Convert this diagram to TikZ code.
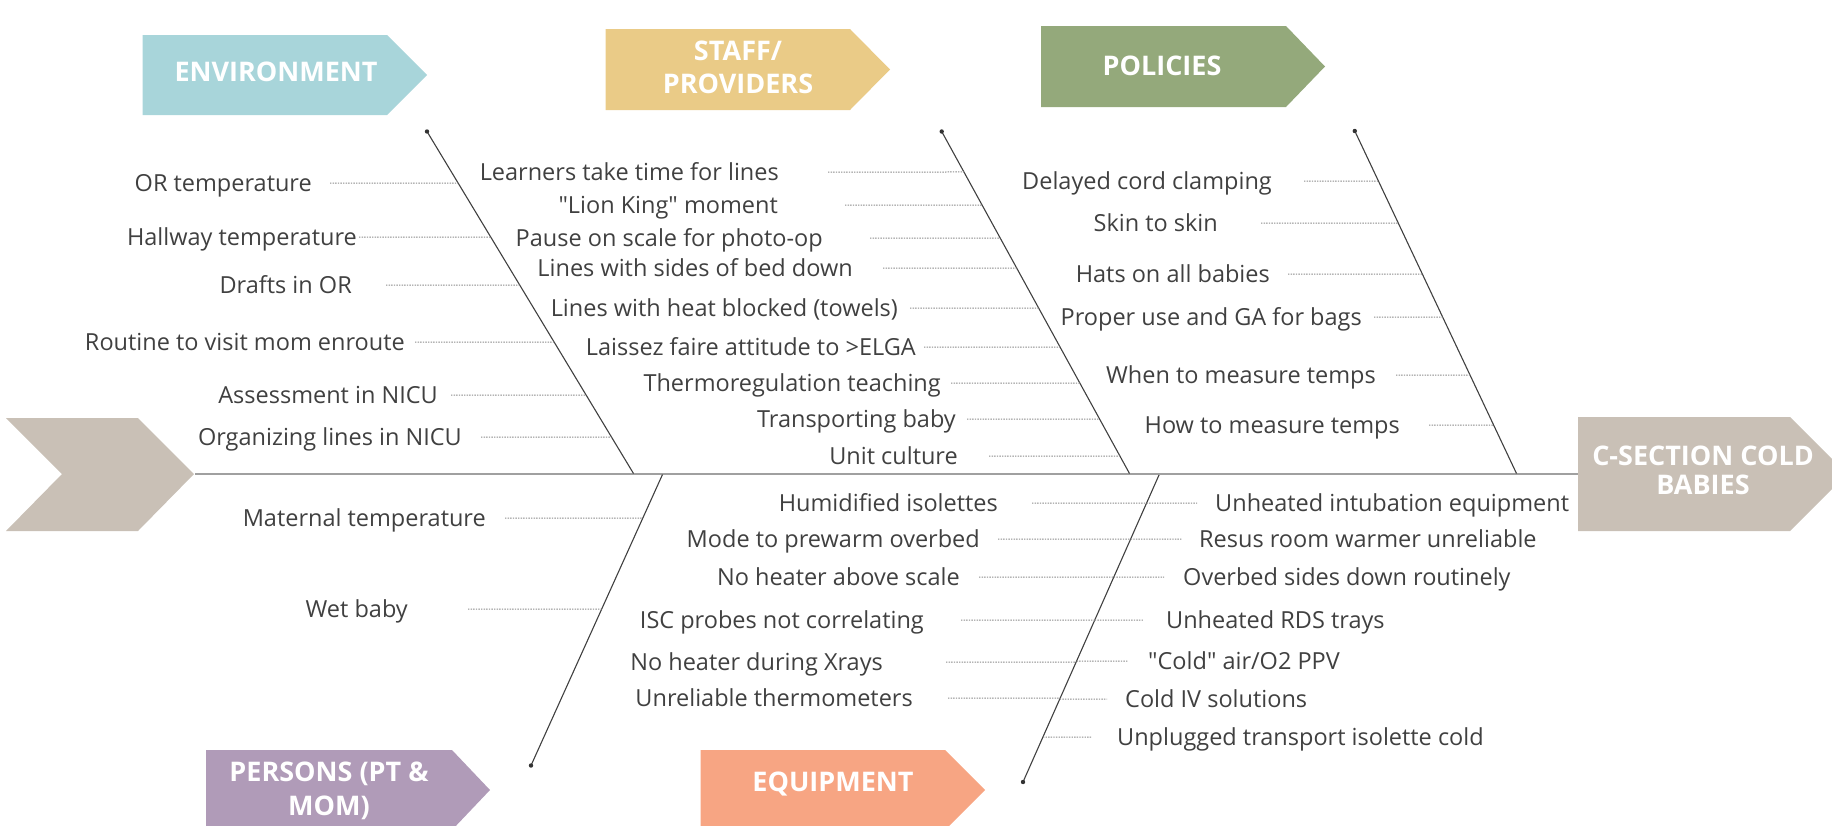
\documentclass[tikz,border=0pt]{standalone}
\usepackage{fontspec}
\setmainfont{Open Sans}[Ligatures=TeXOff]
\usetikzlibrary{calc}
\definecolor{envc}{HTML}{A8D5DA}
\definecolor{staffc}{HTML}{EACB87}
\definecolor{polc}{HTML}{94A97B}
\definecolor{taupe}{HTML}{C9C0B6}
\definecolor{perc}{HTML}{B09BB8}
\definecolor{equc}{HTML}{F7A583}
\definecolor{txt}{HTML}{404040}
\definecolor{spinec}{HTML}{A0A0A0}
\definecolor{dotc}{HTML}{8C8C8C}
\newcommand\lablft[8]{% name, right x, y, gap, bone, bone top y, bone span, text
  \node[lab,anchor=east] (#1) at (#2,#3) {#8};
  \coordinate (#1b) at ($(#5T)!{(#3-#6)/#7}!(#5B)$);
  \draw[dotl] ([xshift=#4]#1.east) -- (#1b);}
\newcommand\envlab[5]{\lablft{#1}{#2}{#3}{#4}{env}{131.5}{342}{#5}}
\newcommand\stflab[5]{\lablft{#1}{#2}{#3}{#4}{stf}{131.5}{342}{#5}}
\newcommand\pollab[5]{\lablft{#1}{#2}{#3}{#4}{pol}{131}{342.5}{#5}}
\newcommand\perlab[5]{\lablft{#1}{#2}{#3}{#4}{per}{474.5}{291}{#5}}
\newcommand\equlab[5]{\lablft{#1}{#2}{#3}{#4}{equ}{475}{307}{#5}}
\newcommand\equrlab[5]{%
  \node[lab,anchor=west] (#1) at (#2,#3) {#5};
  \coordinate (#1b) at ($(equT)!{(#3-475)/307}!(equB)$);
  \draw[dotl] (#1b) -- ([xshift=-#4]#1.west);}
\begin{document}
\begin{tikzpicture}[x=1pt,y=-1pt,
  lab/.style={text=txt,font=\fontsize{23.5}{27}\selectfont,inner sep=0pt,text height=16.5pt,text depth=0pt},
  boxlab/.style={text=white,font=\fontsize{27}{34}\selectfont\bfseries,align=center,inner sep=0pt},
  dotl/.style={draw=dotc,dash pattern=on 1.4pt off 1.2pt,line width=1pt},
  bone/.style={draw=black!75,line width=1.1pt},
  spine/.style={draw=spinec,line width=2.6pt}]
\useasboundingbox (0,0) rectangle (1832,825);
\clip (0,0) rectangle (1832,825);
% category boxes
\fill[envc] (142.5,35) -- (387,35) -- (427,75) -- (387,115) -- (142.5,115) -- cycle;
\node[boxlab] (envL) at (276,72) {ENVIRONMENT};
\fill[staffc] (605.5,29) -- (850,29) -- (890,69.5) -- (850,110) -- (605.5,110) -- cycle;
\node[boxlab,font=\fontsize{27}{33}\selectfont\bfseries] (stfL) at (738,67) {STAFF/\\PROVIDERS};
\fill[polc] (1041,26) -- (1286,26) -- (1325,66.5) -- (1286,107) -- (1041,107) -- cycle;
\node[boxlab] (polL) at (1162,66) {POLICIES};
\fill[perc] (206,750) -- (452,750) -- (490,790) -- (452,830) -- (206,830) -- cycle;
\node[boxlab] (perL) at (329,791) {PERSONS (PT \&\\MOM)};
\fill[equc] (700.5,750) -- (945,750) -- (985,790) -- (945,830) -- (700.5,830) -- cycle;
\node[boxlab] (equL) at (833,784) {EQUIPMENT};
% head and tail
\fill[taupe] (1578,417) -- (1790,417) -- (1847,474) -- (1790,531) -- (1578,531) -- cycle;
\node[boxlab,font=\fontsize{27}{29}\selectfont\bfseries] (head) at (1703,470) {C-SECTION COLD\\BABIES};
\fill[taupe] (6,418) -- (138,418) -- (194,474) -- (138,531) -- (6,531) -- (62,474) -- cycle;
\coordinate (tail) at (195,474);
\coordinate (headW) at (1578,474);
\draw[spine] (tail) -- (headW);
% bones
\coordinate (envT) at (427,131.5);  \coordinate (envB) at (633.5,473.5);
\coordinate (stfT) at (941.7,131.5); \coordinate (stfB) at (1129.5,473.5);
\coordinate (polT) at (1354.8,131); \coordinate (polB) at (1516.5,473.5);
\coordinate (perT) at (662.5,474.5); \coordinate (perB) at (531,765.5);
\coordinate (equT) at (1159,475);   \coordinate (equB) at (1023,782);
\draw[bone] (envT) -- (envB);
\draw[bone] (stfT) -- (stfB);
\draw[bone] (polT) -- (polB);
\draw[bone] (perT) -- (perB);
\draw[bone] (equT) -- (equB);
\fill[black!80] (envT) circle (2.2) (stfT) circle (2.2) (polT) circle (2.2) (perB) circle (2.2) (equB) circle (2.2);
% environment
\envlab{E1}{312}{183}{18}{OR temperature}
\envlab{E2}{357}{237}{2}{Hallway temperature}
\envlab{E3}{352}{285}{34}{Drafts in OR}
\envlab{E4}{405}{342}{10}{Routine to visit mom enroute}
\envlab{E5}{438}{395}{13}{Assessment in NICU}
\envlab{E6}{462}{437}{19}{Organizing lines in NICU}
% staff
\stflab{S1}{779}{172}{49}{Learners take time for lines}
\stflab{S2}{778}{205}{67}{"Lion King" moment}
\stflab{S3}{823}{238}{47}{Pause on scale for photo-op}
\stflab{S4}{853}{268}{30}{Lines with sides of bed down}
\stflab{S5}{898}{308}{12}{Lines with heat blocked (towels)}
\stflab{S6}{916}{347}{8}{Laissez faire attitude to >ELGA}
\stflab{S7}{941}{383}{10}{Thermoregulation teaching}
\stflab{S8}{956}{419}{11}{Transporting baby}
\stflab{S9}{958}{456}{31}{Unit culture}
% policies
\pollab{P1}{1272}{181}{32}{Delayed cord clamping}
\pollab{P2}{1218}{223}{43}{Skin to skin}
\pollab{P3}{1270}{274}{18}{Hats on all babies}
\pollab{P4}{1362}{317}{12}{Proper use and GA for bags}
\pollab{P5}{1376}{375}{20}{When to measure temps}
\pollab{P6}{1400}{425}{29}{How to measure temps}
% persons
\perlab{M1}{486}{518}{19}{Maternal temperature}
\perlab{M2}{408}{609}{60}{Wet baby}
% equipment
\equlab{Q1}{998}{503}{34}{Humidified isolettes}
\equlab{Q2}{980}{539}{18}{Mode to prewarm overbed}
\equlab{Q3}{960}{577}{19}{No heater above scale}
\equlab{Q4}{924}{620}{37}{ISC probes not correlating}
\equlab{Q5}{883}{662}{63}{No heater during Xrays}
\equlab{Q6}{913}{698}{35}{Unreliable thermometers}
\equrlab{R1}{1215}{503}{18}{Unheated intubation equipment}
\equrlab{R2}{1199}{539}{17}{Resus room warmer unreliable}
\equrlab{R3}{1183}{577}{19}{Overbed sides down routinely}
\equrlab{R4}{1166}{620}{22}{Unheated RDS trays}
\equrlab{R5}{1148}{661}{20}{"Cold" air/O2 PPV}
\equrlab{R6}{1125}{699}{18}{Cold IV solutions}
\equrlab{R7}{1117}{737}{26}{Unplugged transport isolette cold}
\end{tikzpicture}
\end{document}
